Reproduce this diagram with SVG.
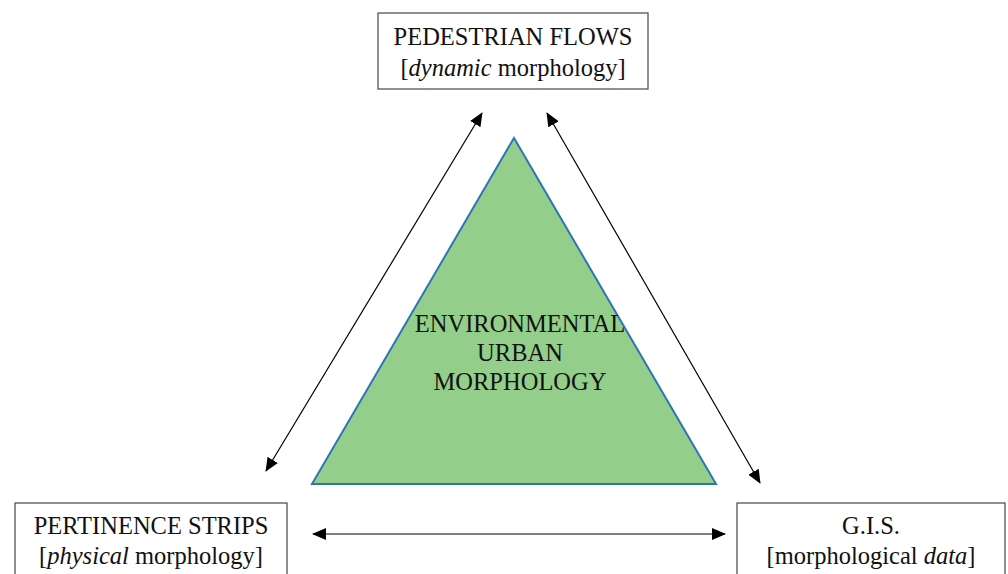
<svg xmlns="http://www.w3.org/2000/svg" width="1008" height="574" viewBox="0 0 1008 574">
<defs>
<marker id="ah" viewBox="0 0 14 12" refX="13" refY="6" markerWidth="14" markerHeight="12" markerUnits="userSpaceOnUse" orient="auto-start-reverse">
<path d="M0,0 L14,6 L0,12 z" fill="#000"/>
</marker>
<style>
.box{fill:#fff;stroke:#555;stroke-width:1.3}
.t{font-family:"Liberation Serif","Times New Roman",serif;font-size:24.5px;fill:#111;text-anchor:middle}
.c{stroke:#000;stroke-width:1.2;fill:none;marker-start:url(#ah);marker-end:url(#ah)}
</style>
</defs>
<rect width="1008" height="574" fill="#fff"/>
<g id="connectors">
<line class="c" x1="266" y1="471" x2="482" y2="113"/>
<line class="c" x1="547" y1="113" x2="760" y2="483"/>
<line class="c" x1="313" y1="534" x2="725" y2="534"/>
</g>
<g id="center">
<polygon points="514,138 312,484 716,484" fill="#93cf8a" stroke="#2e75b6" stroke-width="2"/>
<text class="t" x="520" y="332">ENVIRONMENTAL</text>
<text class="t" x="520" y="361">URBAN</text>
<text class="t" x="520" y="390">MORPHOLOGY</text>
</g>
<g id="pedestrian">
<rect class="box" x="378" y="13" width="270" height="76"/>
<text class="t" x="513" y="45">PEDESTRIAN FLOWS</text>
<text class="t" x="513" y="76">[<tspan font-style="italic">dynamic</tspan> morphology]</text>
</g>
<g id="pertinence">
<rect class="box" x="15" y="503" width="272" height="80"/>
<text class="t" x="151" y="534">PERTINENCE STRIPS</text>
<text class="t" x="151" y="564">[<tspan font-style="italic">physical</tspan> morphology]</text>
</g>
<g id="gis">
<rect class="box" x="737" y="503" width="268" height="80"/>
<text class="t" x="871" y="534">G.I.S.</text>
<text class="t" x="871" y="564">[morphological <tspan font-style="italic">data</tspan>]</text>
</g>
</svg>
